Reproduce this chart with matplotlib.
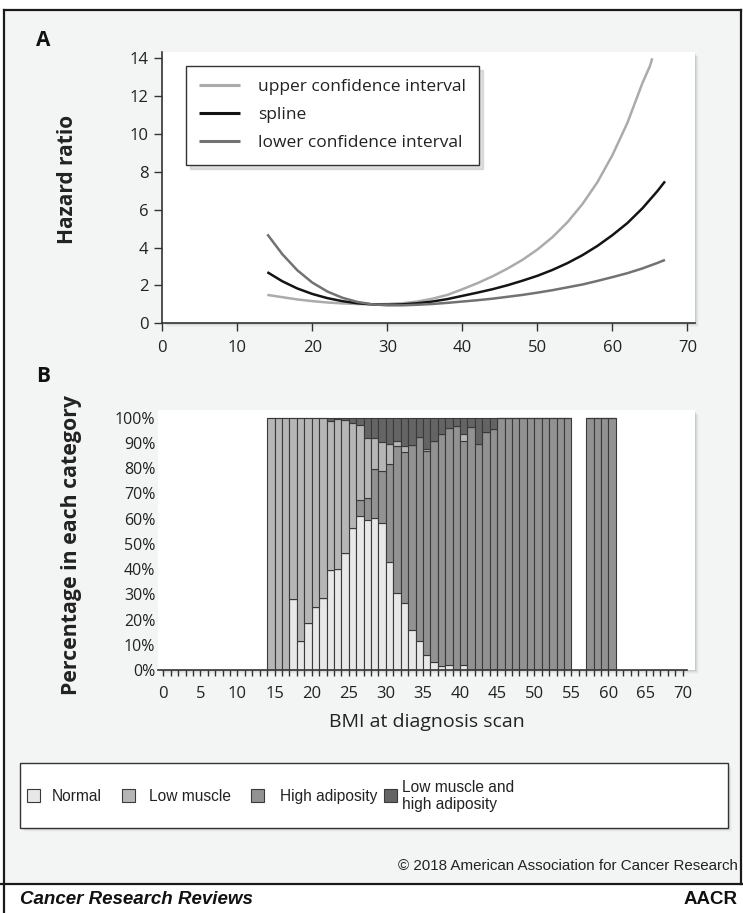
import matplotlib
matplotlib.use('Agg')
import matplotlib.pyplot as plt
from matplotlib.patches import Rectangle
from matplotlib.lines import Line2D

# ---------------- data: panel A (hazard ratio spline) ----------------
bmi_curve = [14, 16, 18, 20, 22, 24, 26, 28, 30, 32, 34, 36, 38, 40, 42, 44, 46, 48,
             50, 52, 54, 56, 58, 60, 62, 64, 66, 67]
spline = [2.70, 2.22, 1.84, 1.55, 1.33, 1.17, 1.06, 1.00, 0.98, 1.00, 1.06, 1.15, 1.28,
          1.45, 1.62, 1.80, 2.01, 2.25, 2.51, 2.82, 3.18, 3.60, 4.09, 4.66, 5.30, 6.08,
          6.99, 7.50]
lower_ci = [4.70, 3.65, 2.80, 2.15, 1.68, 1.35, 1.13, 1.00, 0.95, 0.95, 0.98, 1.02, 1.08,
            1.15, 1.22, 1.30, 1.40, 1.50, 1.62, 1.75, 1.90, 2.05, 2.24, 2.44, 2.65, 2.90,
            3.19, 3.35]
bmi_upper = [14, 16, 18, 20, 22, 24, 26, 28, 30, 32, 34, 36, 38, 40, 42, 44, 46, 48,
             50, 52, 54, 56, 58, 60, 62, 64, 65, 65.3]
upper_ci = [1.50, 1.38, 1.26, 1.17, 1.10, 1.05, 1.02, 1.00, 1.02, 1.06, 1.15, 1.30, 1.50,
            1.80, 2.12, 2.48, 2.89, 3.35, 3.90, 4.55, 5.34, 6.30, 7.46, 8.89, 10.60, 12.70,
            13.60, 14.00]
curve_labels = ['upper confidence interval', 'spline', 'lower confidence interval']

# ---------------- data: panel B (body composition by BMI) ----------------
bmi_bars = list(range(14, 55)) + [57, 58, 59, 60]
normal = [0, 0, 0, 28, 11.5, 18.5, 25, 28.6, 39.8, 40, 46.4, 56.2, 61, 59.3, 60.3, 58.3,
          42.7, 30.5, 26.6, 15.8, 11.3, 6, 3, 1.5, 1.8, 0, 2, 0, 0, 0, 0,
          0, 0, 0, 0, 0, 0, 0, 0, 0, 0,
          0, 0, 0, 0]
high_adiposity = [0, 0, 0, 0, 0, 0, 0, 0, 0, 0, 0, 0, 6.2, 8.7, 19.3, 20.7,
                  38.8, 58.1, 59.8, 73.4, 81.2, 80.9, 87.9, 91.8, 94.1, 96.8, 88.6, 96.1,
                  89.5, 94.2, 95.4,
                  100, 100, 100, 100, 100, 100, 100, 100, 100, 100,
                  100, 100, 100, 100]
low_muscle = [100, 100, 100, 72, 88.5, 81.5, 75, 71.4, 59, 59.5, 52.6, 41.5, 29.9, 23.8,
              12.5, 11.4, 8.1, 2.0, 2.2, 0, 0, 0.8, 0, 0, 0, 0, 3.0, 0, 0, 0, 0,
              0, 0, 0, 0, 0, 0, 0, 0, 0, 0,
              0, 0, 0, 0]
lm_ha = [0, 0, 0, 0, 0, 0, 0, 0, 1.2, 0.5, 1.0, 2.3, 2.9, 8.2, 7.9, 9.6, 10.4, 9.4, 11.4,
         10.8, 7.5, 12.3, 9.1, 6.7, 4.1, 3.2, 6.4, 3.9, 10.5, 5.8, 4.6,
         0, 0, 0, 0, 0, 0, 0, 0, 0, 0,
         0, 0, 0, 0]
category_labels = ['Normal', 'Low muscle', 'High adiposity', 'Low muscle and\nhigh adiposity']
pct_ticks = [0, 10, 20, 30, 40, 50, 60, 70, 80, 90, 100]

# ---------------- styling ----------------
W, H = 743, 913
FONT = ['Open Sans', 'DejaVu Sans']
NARROW = ['Liberation Sans', 'DejaVu Sans']
plt.rcParams['font.family'] = FONT
TXT = '#222222'
AX = '#333333'
cat_colors = {'Normal': '#e8e8e8', 'Low muscle': '#b6b6b6',
              'High adiposity': '#929292', 'LMHA': '#646464'}
line_colors = ['#ababab', '#141414', '#727272']

fig = plt.figure(figsize=(W / 100, H / 100), dpi=100, facecolor='white')


def rect_px(x0, y0, x1, y1):
    return [x0 / W, 1 - y1 / H, (x1 - x0) / W, (y1 - y0) / H]


def fig_rect(x0, y0, x1, y1, **kw):
    r = Rectangle((x0 / W, 1 - y1 / H), (x1 - x0) / W, (y1 - y0) / H,
                  transform=fig.transFigure, **kw)
    fig.add_artist(r)
    return r


def shadow(x0, y0, x1, y1):
    for i, a in enumerate([0.07, 0.05, 0.035, 0.02]):
        d = 1 + i
        fig_rect(x0 + d + 1, y0 + d + 1, x1 + d, y1 + d, facecolor='black',
                 edgecolor='none', alpha=a, zorder=-2)


def fig_line(xs, ys, **kw):
    fig.add_artist(Line2D([x / W for x in xs], [1 - y / H for y in ys],
                          transform=fig.transFigure, **kw))


# panel background & frame
fig_rect(4, 10, 741, 884, facecolor='#f3f4f4', edgecolor='none', zorder=-3)
fig_line([4, 741], [10, 10], color='#1a1a1a', lw=1.6, zorder=5)
fig_line([4, 4], [10, 913], color='#1a1a1a', lw=1.6, zorder=5)
fig_line([741, 741], [10, 884], color='#1a1a1a', lw=1.6, zorder=5)
fig_line([0, 743], [884, 884], color='#1a1a1a', lw=1.6, zorder=5)

# ---------------- panel A ----------------
shadow(162, 52, 695, 323)
axA = fig.add_axes(rect_px(162.3, 51.7, 695, 323.3))
axA.set_facecolor('white')
axA.plot(bmi_upper, upper_ci, color=line_colors[0], lw=1.8, label=curve_labels[0],
         solid_capstyle='butt')
axA.plot(bmi_curve, spline, color=line_colors[1], lw=1.8, label=curve_labels[1],
         solid_capstyle='butt')
axA.plot(bmi_curve, lower_ci, color=line_colors[2], lw=1.8, label=curve_labels[2],
         solid_capstyle='butt')
axA.set_xlim(0, 71.0)
axA.set_ylim(0, 14.35)
axA.set_xticks(range(0, 71, 10))
axA.set_yticks(range(0, 15, 2))
for s in ['top', 'right']:
    axA.spines[s].set_visible(False)
for s in ['left', 'bottom']:
    axA.spines[s].set_color(AX)
    axA.spines[s].set_linewidth(1.2)
axA.tick_params(direction='out', length=6, width=1, color=AX, labelsize=12,
                labelcolor=TXT)
axA.tick_params(axis='x', pad=6)
axA.tick_params(axis='y', pad=4)
axA.set_ylabel('Hazard ratio', fontsize=15, fontweight='bold', color=TXT)
axA.yaxis.set_label_coords(-0.158, 0.528)
leg = axA.legend(loc='upper left', bbox_to_anchor=(185.7 / W, 1 - 65.7 / H),
                 bbox_transform=fig.transFigure, fontsize=12.5, frameon=True,
                 fancybox=False, handlelength=2.4, handletextpad=1.0,
                 labelspacing=0.7, borderpad=0.75, borderaxespad=0,
                 shadow={'color': '0.75', 'ox': 3, 'oy': -3, 'alpha': 0.5})
leg.get_frame().set_edgecolor(AX)
leg.get_frame().set_linewidth(1.0)
for t in leg.get_texts():
    t.set_color(TXT)
for h in leg.legend_handles:
    h.set_linewidth(2.2)

fig.text(43 / W, 1 - 41 / H, 'A', fontsize=15, fontweight='bold', color='#111111',
         ha='center', va='center')
fig.text(43 / W, 1 - 377 / H, 'B', fontsize=15, fontweight='bold', color='#111111',
         ha='center', va='center')

# ---------------- panel B ----------------
shadow(158, 410, 695, 670)
axB = fig.add_axes(rect_px(158, 410, 695, 670))
axB.set_facecolor('white')
bottom = [0.0] * len(bmi_bars)
stack = [(normal, cat_colors['Normal']), (high_adiposity, cat_colors['High adiposity']),
         (low_muscle, cat_colors['Low muscle']), (lm_ha, cat_colors['LMHA'])]
for vals, col in stack:
    axB.bar(bmi_bars, vals, bottom=bottom, width=1.0, align='edge', color=col,
            edgecolor='#3a3a3a', linewidth=0.8)
    bottom = [b + v for b, v in zip(bottom, vals)]
axB.set_xlim(-0.71, 71.66)
axB.set_ylim(0, 103)
for s in ['top', 'right', 'left']:
    axB.spines[s].set_visible(False)
axB.spines['bottom'].set_color(AX)
axB.spines['bottom'].set_linewidth(1.2)
axB.spines['bottom'].set_bounds(-0.71, 70.6)
axB.set_xticks(range(0, 71, 5))
axB.set_xticks(range(0, 71, 1), minor=True)
axB.tick_params(axis='x', which='both', direction='out', length=4.5, width=1, color=AX)
axB.tick_params(axis='x', which='major', labelsize=12, labelcolor=TXT, pad=7)
axB.set_yticks(pct_ticks)
axB.set_yticklabels([f'{p}%' for p in pct_ticks])
axB.tick_params(axis='y', length=0, labelsize=11.5, labelcolor=TXT, pad=2)
axB.set_xlabel('BMI at diagnosis scan', fontsize=14, color=TXT, labelpad=8)
axB.set_ylabel('Percentage in each category', fontsize=15.3, fontweight='bold', color=TXT)
axB.yaxis.set_label_coords(-0.142, 0.48)

# ---------------- bottom legend ----------------
shadow(20, 763, 728, 828)
fig_rect(20, 763, 728, 828, facecolor='white', edgecolor=AX, lw=1.0, zorder=1)
leg_cols = [cat_colors['Normal'], cat_colors['Low muscle'], cat_colors['High adiposity'],
            cat_colors['LMHA']]
sq_x = [27, 122, 251, 384]
tx_x = [52, 149, 280, 402]
for lab, col, sx, tx in zip(category_labels, leg_cols, sq_x, tx_x):
    fig_rect(sx, 789, sx + 13, 802, facecolor=col, edgecolor='#3a3a3a', lw=0.8, zorder=2)
    fig.text(tx / W, 1 - 796 / H, lab, fontsize=11.2, color=TXT, ha='left', va='center',
             family=NARROW, linespacing=1.15, zorder=3)

fig.text(738 / W, 1 - 866 / H, '\u00a9 2018 American Association for Cancer Research',
         fontsize=10.9, color=TXT, ha='right', va='center', family=NARROW)
fig.text(20 / W, 1 - 899 / H, 'Cancer Research Reviews', fontsize=13.5, color='#111111',
         ha='left', va='center', family=['Liberation Sans', 'DejaVu Sans'],
         fontweight='bold', fontstyle='italic')
fig.text(738 / W, 1 - 899 / H, 'AACR', fontsize=13.5, color='#111111', ha='right',
         va='center', family=['Liberation Sans', 'DejaVu Sans'], fontweight='bold')

fig.savefig('out.png', dpi=100, facecolor='white')
